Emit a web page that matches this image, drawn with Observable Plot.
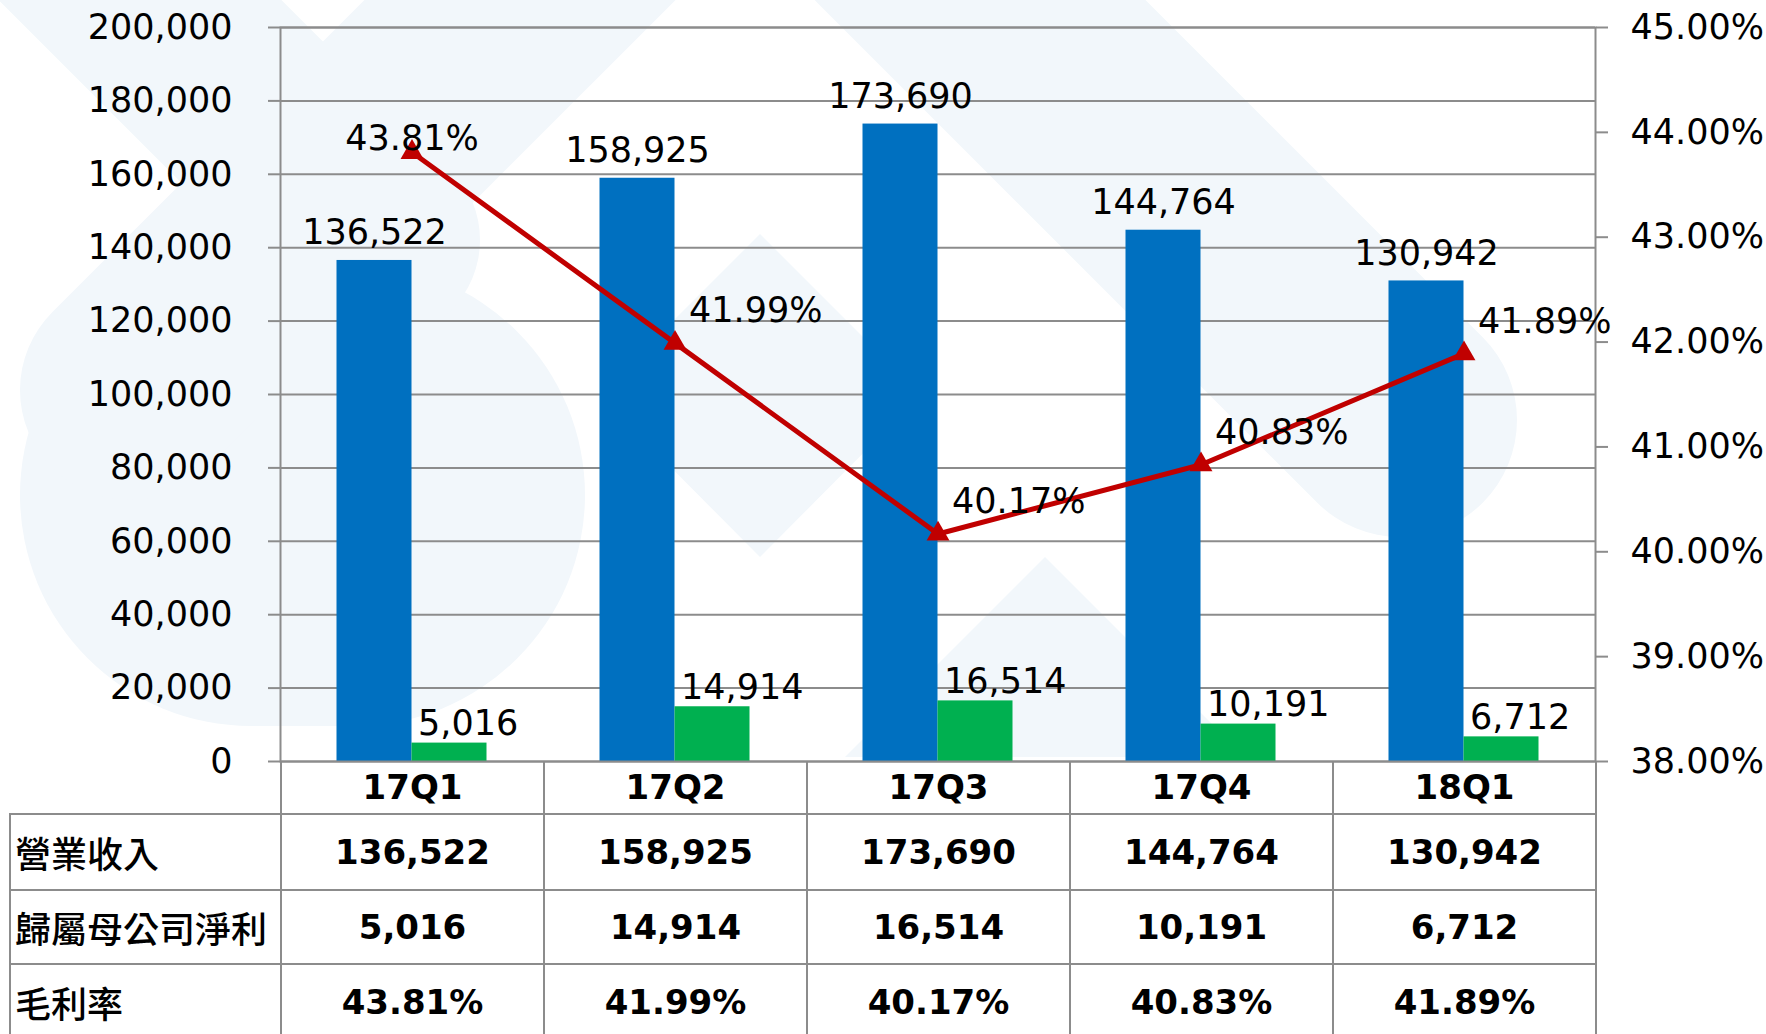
<!DOCTYPE html>
<html><head><meta charset="utf-8">
<script src="https://cdn.jsdelivr.net/npm/d3@7"></script>
<script src="https://cdn.jsdelivr.net/npm/@observablehq/plot@0.6"></script>
<style>
html,body{margin:0;padding:0;background:#fff;}
#wrap{position:relative;width:1766px;height:1034px;overflow:hidden;background:#fff;}
#bg{position:absolute;left:0;top:0;}
#chart{position:absolute;left:0;top:0;}
#tbl{position:absolute;left:9px;top:761px;border-collapse:collapse;table-layout:fixed;width:1586px;font-family:"DejaVu Sans",sans-serif;}
#tbl td{border:2px solid #8c8c8c;padding:0;text-align:center;font-weight:bold;font-size:34px;color:#000;background:transparent;}
#tbl tr.head td{border-top:none;height:52px;}
#tbl tr.head td.lab{border:none;}
#tbl td.lab{text-align:left;font-family:"Noto Sans CJK TC",sans-serif;font-weight:500;font-size:36px;padding-left:4px;}
</style></head>
<body><div id="wrap">
<svg id="bg" width="1766" height="1034">
  <g fill="#F2F7FB" stroke="none">
    <rect x="20" y="264" width="565" height="462" rx="231"/>
    <polygon points="760,234 921,395 760,557 599,395"/>
    <polygon points="1045,557 1245,757 845,757"/>
  </g>
  <g stroke="#F2F7FB" stroke-linecap="round" fill="none">
    <line x1="40" y1="-100" x2="380" y2="240" stroke-width="200"/>
    <line x1="600" y1="-80" x2="130" y2="390" stroke-width="220"/>
    <line x1="900" y1="-80" x2="1400" y2="420" stroke-width="234"/>
  </g>
</svg>
<div id="chart"></div>
<table id="tbl"></table>
</div>
<script>
const quarters = ["17Q1","17Q2","17Q3","17Q4","18Q1"];
const revenue = [136522,158925,173690,144764,130942];
const netIncome = [5016,14914,16514,10191,6712];
const grossMargin = [43.81,41.99,40.17,40.83,41.89];
const rowLabels = ["營業收入","歸屬母公司淨利","毛利率"];
const leftTicks = [0,20000,40000,60000,80000,100000,120000,140000,160000,180000,200000];
const rightTicks = [38,39,40,41,42,43,44,45];

const yMax = 200000, pMin = 38, pMax = 45;
const pctToY = p => (p - pMin) / (pMax - pMin) * yMax;
const yToPct = v => v / yMax * (pMax - pMin) + pMin;
const fmtNum = d3.format(",");
const fmtPct = p => p.toFixed(2) + "%";

const W = 1766, H = 1034, mL = 280, mR = 171, mT = 27, mB = 273;
const bw = (W - mL - mR) / quarters.length;
const barW = 75;
const grid = "#8c8c8c";
const font = "DejaVu Sans";

const rows = quarters.map((q, i) => ({q, rev: revenue[i], ni: netIncome[i], gm: grossMargin[i], gmY: pctToY(grossMargin[i])}));

const chart = Plot.plot({
  width: W, height: H, marginLeft: mL, marginRight: mR, marginTop: mT, marginBottom: mB,
  style: {fontFamily: font, fontSize: "35px", color: "#000", background: "transparent", overflow: "visible"},
  x: {type: "band", domain: quarters, padding: 0, axis: null},
  y: {domain: [0, yMax], axis: null},
  marks: [
    Plot.gridY(leftTicks, {stroke: grid, strokeOpacity: 1, strokeWidth: 2}),
    Plot.barY(rows, {x: "q", y: "rev", fill: "#0070C0", insetLeft: bw/2 - barW, insetRight: bw/2}),
    Plot.barY(rows, {x: "q", y: "ni", fill: "#00B050", insetLeft: bw/2, insetRight: bw/2 - barW}),
    Plot.frame({stroke: grid, strokeWidth: 2}),
    Plot.axisY(leftTicks, {anchor: "left", tickSize: 12, tickPadding: 36, stroke: grid, strokeWidth: 2, fill: "#000", fontSize: 35, tickFormat: fmtNum}),
    Plot.axisY(rightTicks.map(pctToY), {anchor: "right", tickSize: 12, tickPadding: 23, stroke: grid, strokeWidth: 2, fill: "#000", fontSize: 35, tickFormat: v => fmtPct(yToPct(v))}),
    Plot.line(rows, {x: "q", y: "gmY", stroke: "#C00000", strokeWidth: 5}),
    Plot.dot(rows, {x: "q", y: "gmY", symbol: "triangle", r: 8.5, fill: "#C00000", stroke: "none"}),
    Plot.text(rows, {x: "q", y: "rev", text: d => fmtNum(d.rev), dx: -barW/2, dy: -16, lineAnchor: "bottom", fontSize: 35, fill: "#000"}),
    Plot.text(rows, {x: "q", y: "ni", text: d => fmtNum(d.ni), textAnchor: "start", dx: 6, dy: -8, lineAnchor: "bottom", fontSize: 35, fill: "#000"}),
    Plot.text(rows.slice(0, 1), {x: "q", y: "gmY", text: d => fmtPct(d.gm), dy: -2, lineAnchor: "bottom", fontSize: 35, fill: "#000"}),
    Plot.text(rows.slice(1), {x: "q", y: "gmY", text: d => fmtPct(d.gm), textAnchor: "start", dx: 14, dy: -32, fontSize: 35, fill: "#000"})
  ]
});
document.getElementById("chart").appendChild(chart);

// table below the plot
const tbl = document.getElementById("tbl");
let html = '<colgroup><col style="width:271px">' + quarters.map(() => '<col style="width:' + bw + 'px">').join("") + '</colgroup>';
html += '<tr class="head"><td class="lab"></td>' + quarters.map(q => '<td>' + q + '</td>').join("") + '</tr>';
const tableRows = [revenue.map(fmtNum), netIncome.map(fmtNum), grossMargin.map(fmtPct)];
const rowH = [76, 74, 76];
tableRows.forEach((vals, i) => {
  html += '<tr style="height:' + rowH[i] + 'px"><td class="lab">' + rowLabels[i] + '</td>' + vals.map(v => '<td>' + v + '</td>').join("") + '</tr>';
});
tbl.innerHTML = html;
</script>
</body></html>
